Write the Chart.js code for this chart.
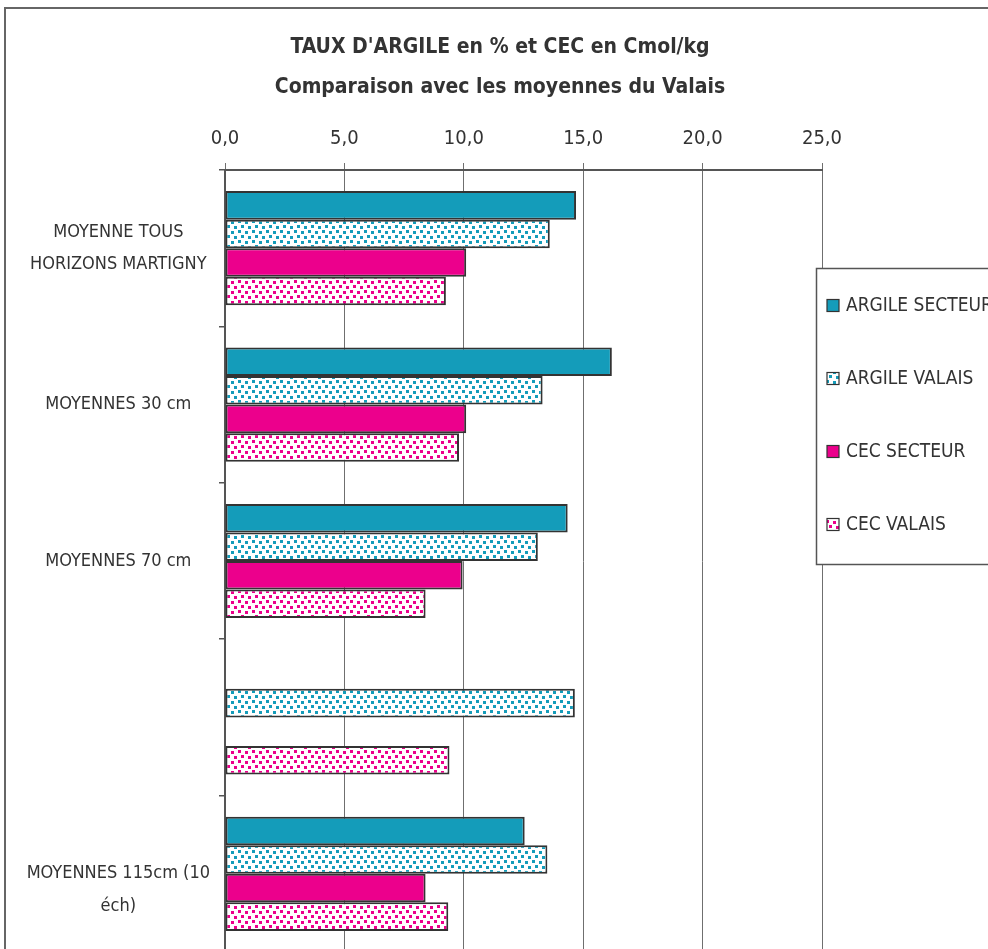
<!DOCTYPE html>
<html>
<head>
<meta charset="utf-8">
<script src="https://cdn.jsdelivr.net/npm/chart.js@4.4.1/dist/chart.umd.min.js"></script>
<style>
  html, body { margin: 0; padding: 0; background: #fff; overflow: hidden; }
  #wrap { width: 988px; height: 960px; }
</style>
</head>
<body>
<div id="wrap"><canvas id="chart"></canvas></div>
<script>
// Moyennes par profondeur : argile (%) et CEC (Cmol/kg), secteur vs Valais
const categories = [
  ['MOYENNE TOUS', 'HORIZONS MARTIGNY'],
  'MOYENNES 30 cm',
  'MOYENNES 70 cm',
  '',
  ['', 'MOYENNES 115cm (10', 'éch)']
];
const argileSecteur = [14.7, 16.2, 14.35, null, 12.55];
const argileValais  = [13.6, 13.3, 13.1, 14.65, 13.5];
const cecSecteur    = [10.1, 10.1, 9.95, null, 8.4];
const cecValais     = [9.25, 9.8, 8.4, 9.4, 9.35];

const xMin = 0, xMax = 25, xStep = 5;

const TEAL = '#149cba';
const MAGENTA = '#ec008c';
const FONT = "'DejaVu Sans Condensed', 'DejaVu Sans', sans-serif";

// petit motif "confettis" pour les moyennes du Valais
function confetti(color) {
  const c = document.createElement('canvas');
  c.width = 14; c.height = 10;
  const g = c.getContext('2d');
  g.fillStyle = '#fff';
  g.fillRect(0, 0, 14, 10);
  g.fillStyle = color;
  [[0, 0], [7, 1], [3, 5], [10, 6]].forEach(([x, y]) => g.fillRect(x, y, 3, 3));
  return g.createPattern(c, 'repeat');
}

// cadre extérieur
const frame = {
  id: 'frame',
  beforeDraw(chart) {
    const ctx = chart.ctx;
    ctx.save();
    ctx.fillStyle = '#fff';
    ctx.fillRect(0, 0, chart.width, chart.height);
    ctx.strokeStyle = '#666';
    ctx.lineWidth = 2;
    ctx.strokeRect(5, 8, 1200, 1200);
    ctx.restore();
  }
};

// légende encadrée à droite du graphique
const legendBox = {
  id: 'legendBox',
  afterDraw(chart) {
    const ctx = chart.ctx;
    const left = chart.chartArea.right - 6;
    const top = 268.5;
    ctx.save();
    ctx.fillStyle = '#fff';
    ctx.fillRect(left, top, 400, 296);
    ctx.strokeStyle = '#555';
    ctx.lineWidth = 1.5;
    ctx.strokeRect(left + 0.5, top, 400, 296);
    ctx.font = '19px ' + FONT;
    ctx.textBaseline = 'middle';
    chart.data.datasets.forEach((ds, i) => {
      const y = top + 37 + i * 73;
      ctx.fillStyle = ds.backgroundColor;
      ctx.fillRect(left + 11, y - 6, 12, 12);
      ctx.strokeStyle = '#333';
      ctx.lineWidth = 1.2;
      ctx.strokeRect(left + 11, y - 6, 12, 12);
      ctx.fillStyle = '#333';
      ctx.fillText(ds.label, left + 30, y + 1);
    });
    ctx.restore();
  }
};

const ctx = document.getElementById('chart').getContext('2d');

const barStyle = {
  borderColor: '#333',
  borderWidth: 2,
  borderSkipped: false,
  categoryPercentage: 0.73,
  barPercentage: 1.0
};

new Chart(ctx, {
  type: 'bar',
  data: {
    labels: categories,
    datasets: [
      Object.assign({ label: 'ARGILE SECTEUR', data: argileSecteur, backgroundColor: TEAL }, barStyle),
      Object.assign({ label: 'ARGILE VALAIS', data: argileValais, backgroundColor: confetti(TEAL) }, barStyle),
      Object.assign({ label: 'CEC SECTEUR', data: cecSecteur, backgroundColor: MAGENTA }, barStyle),
      Object.assign({ label: 'CEC VALAIS', data: cecValais, backgroundColor: confetti(MAGENTA) }, barStyle)
    ]
  },
  options: {
    indexAxis: 'y',
    responsive: true,
    maintainAspectRatio: false,
    animation: false,
    layout: { padding: { left: 12, right: 0, top: 0, bottom: 8 } },
    plugins: {
      legend: { display: false },
      tooltip: { enabled: false },
      title: {
        display: true,
        text: ["TAUX D'ARGILE en % et CEC en Cmol/kg", 'Comparaison avec les moyennes du Valais'],
        color: '#333',
        font: { family: FONT, size: 21, weight: 'bold', lineHeight: 1.9 },
        padding: { top: 28, bottom: 0 }
      }
    },
    scales: {
      x: {
        position: 'top',
        min: xMin,
        max: xMax,
        ticks: {
          stepSize: xStep,
          color: '#333',
          font: { family: FONT, size: 20 },
          padding: 12,
          callback: v => v.toFixed(1).replace('.', ',')
        },
        grid: { color: '#6f6f6f', lineWidth: 1, tickLength: 7 },
        border: { color: '#555', width: 2 },
        afterFit(s) { s.height = 170 - 28 - 2 * 21 * 1.9; }
      },
      y: {
        offset: true,
        grid: { offset: true, drawOnChartArea: false, tickLength: 6, color: '#555', lineWidth: 1.5 },
        border: { color: '#555', width: 2 },
        ticks: {
          color: '#333',
          font: { family: FONT, size: 18, lineHeight: 1.78 },
          crossAlign: 'center',
          padding: 9
        },
        afterFit(s) {
          s.width = 213;
          s.paddingTop = 0;
          s.paddingBottom = 0;
        }
      },
      // réserve la place de la légende à droite
      spacer: {
        type: 'linear',
        position: 'right',
        grid: { display: false },
        ticks: { display: false },
        border: { display: false },
        afterFit(s) { s.width = 166; }
      }
    }
  },
  plugins: [frame, legendBox]
});
</script>
</body>
</html>
